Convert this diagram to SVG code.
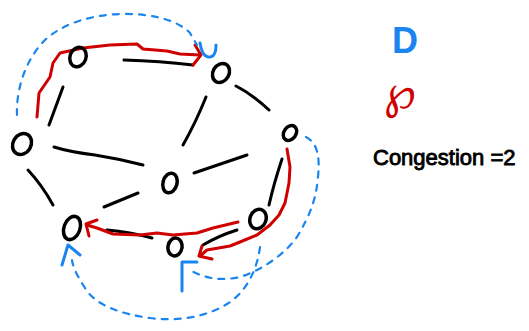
<svg xmlns="http://www.w3.org/2000/svg" width="529" height="331" viewBox="0 0 529 331">
  <style>
    .node { fill: none; stroke: #000; stroke-width: 3.5; }
    .edge { fill: none; stroke: #000; stroke-width: 3; stroke-linecap: round; stroke-linejoin: round; }
    .path-p { fill: none; stroke: #d00000; stroke-width: 3; stroke-linecap: round; stroke-linejoin: round; }
    .path-d { fill: none; stroke: #1a85f0; stroke-width: 2.2; stroke-linecap: round; stroke-linejoin: round; stroke-dasharray: 6 7; }
    .hook-d { fill: none; stroke: #1a85f0; stroke-width: 3; stroke-linecap: round; stroke-linejoin: round; }
    .label { font-family: "Liberation Sans", "DejaVu Sans", sans-serif; }
  </style>

  <!-- graph edges -->
  <g id="edges">
    <path class="edge" d="M124,60 Q160,61 193,65"/>
    <path class="edge" d="M63,87 L49,125"/>
    <path class="edge" d="M236,86 Q252,94 269,110"/>
    <path class="edge" d="M206,97 Q196,122 183,145"/>
    <path class="edge" d="M54,147 Q70,152 95,155 Q120,159 143,165"/>
    <path class="edge" d="M247,155 L194,173"/>
    <path class="edge" d="M28,170 Q42,185 53,205"/>
    <path class="edge" d="M138,193 L104,207"/>
    <path class="edge" d="M282,159 Q274,183 269,205"/>
    <path class="edge" d="M107,230 Q130,232 152,238"/>
    <path class="edge" d="M203,245 Q218,236 237,230"/>
  </g>

  <!-- routed paths P (red) -->
  <g id="paths-p">
    <path class="path-p" d="M37,117 L39,93 L50,77 L53,63 L60,53 L83,48 L110,45 L137,44 L143,49 L167,51 L180,54 L200,55"/>
    <path class="path-p" d="M195,45 L201,55 L193,65"/>
    <path class="path-p" d="M287,149 L290,167 L289,183 L285,203 L279,215 L270,225 L257,235 L240,242 L230,246 L207,250 L200,256"/>
    <path class="path-p" d="M202,246 L199,256 L212,259"/>
    <path class="path-p" d="M238,222 L213,228 L197,233 L173,235 L157,233 L140,235 L113,234 L97,228 L87,225"/>
    <path class="path-p" d="M97,220 L86,224 L89,236"/>
  </g>

  <!-- routed paths D (blue, dashed) -->
  <g id="paths-d">
    <path class="path-d" d="M17,115 C16,90 25,60 45,40 C62,24 90,15 120,14 C150,13 178,20 190,33 L197,45"/>
    <path class="hook-d" d="M200,43 Q202,56 208,57 Q216,58 216,45"/>
    <path class="path-d" d="M306,137 C318,143 320,158 318,177 C316,200 310,215 297,237 C285,254 262,270 240,277 C222,281 205,279 190,270"/>
    <path class="hook-d" d="M182,291 L182,262 L197,262"/>
    <path class="path-d" d="M260,247 C257,270 247,290 230,302 C210,316 180,322 150,318 C120,314 95,305 85,288 C78,277 73,268 72,260"/>
    <path class="hook-d" d="M62,265 L68,245 L80,255"/>
  </g>

  <!-- nodes -->
  <g id="n1"><ellipse class="node" cx="78" cy="57" rx="8" ry="10" transform="rotate(20 78 57)"/></g>
  <g id="n2"><ellipse class="node" cx="221" cy="73" rx="8" ry="10" transform="rotate(30 221 73)"/></g>
  <g id="n3"><ellipse class="node" cx="22" cy="144" rx="9" ry="11" transform="rotate(30 22 144)"/></g>
  <g id="n4"><ellipse class="node" cx="290" cy="133" rx="6" ry="8" transform="rotate(35 290 133)"/></g>
  <g id="n5"><ellipse class="node" cx="170" cy="183" rx="7" ry="10" transform="rotate(15 170 183)"/></g>
  <g id="n6"><ellipse class="node" cx="258" cy="219" rx="8" ry="10" transform="rotate(20 258 219)"/></g>
  <g id="n7"><ellipse class="node" cx="72" cy="228" rx="8" ry="12" transform="rotate(20 72 228)"/></g>
  <g id="n8"><ellipse class="node" cx="175" cy="247" rx="7" ry="9" transform="rotate(10 175 247)"/></g>

  <!-- legend -->
  <g id="legend">
    <text class="label" x="392" y="53" font-size="36" font-weight="bold" fill="#1a85f0">D</text>
    <text x="384" y="108" font-size="46" fill="#d00000" font-family="'DejaVu Serif', 'DejaVu Sans', serif">℘</text>
    <text class="label" x="373" y="165" font-size="22" fill="#000" stroke="#000" stroke-width="0.9">Congestion =2</text>
  </g>
</svg>
